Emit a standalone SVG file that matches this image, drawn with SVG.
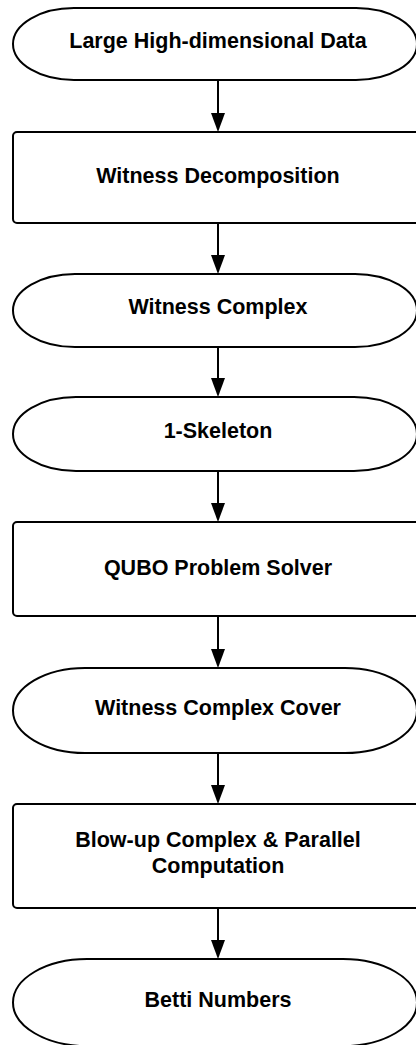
<svg xmlns="http://www.w3.org/2000/svg" width="416" height="1045" viewBox="0 0 416 1045">
<style>
.s{fill:#fff;stroke:#000;stroke-width:2}
.t{font-family:"Liberation Sans",Arial,sans-serif;font-weight:bold;font-size:21.5px;fill:#000;text-anchor:middle}
.c{stroke:#000;stroke-width:2;fill:none}
</style>
<defs>
<marker id="ah" viewBox="0 0 19 14" refX="9" refY="7" markerWidth="19" markerHeight="14" markerUnits="userSpaceOnUse" orient="auto">
<path d="M0,0 L19,7 L0,14 Z" fill="#000"/>
</marker>
</defs>
<rect width="416" height="1045" fill="#fff"/>
<g id="n1"><path class="s" d="M74,8 H356 A61,36 0 0 1 356,80 H74 A61,36 0 0 1 74,8 Z"/><text class="t" x="218" y="48">Large High-dimensional Data</text></g>
<g id="n2"><rect class="s" x="13" y="132" width="410" height="91" rx="4"/><text class="t" x="218" y="183">Witness Decomposition</text></g>
<g id="n3"><path class="s" d="M75,274 H355 A62,36.5 0 0 1 355,347 H75 A62,36.5 0 0 1 75,274 Z"/><text class="t" x="218" y="314">Witness Complex</text></g>
<g id="n4"><path class="s" d="M76,397 H354 A63,37 0 0 1 354,471 H76 A63,37 0 0 1 76,397 Z"/><text class="t" x="218" y="438">1-Skeleton</text></g>
<g id="n5"><rect class="s" x="13" y="522" width="410" height="94" rx="4"/><text class="t" x="218" y="575">QUBO Problem Solver</text></g>
<g id="n6"><path class="s" d="M85,668 H345 A72,42.5 0 0 1 345,753 H85 A72,42.5 0 0 1 85,668 Z"/><text class="t" x="218" y="715">Witness Complex Cover</text></g>
<g id="n7"><rect class="s" x="13" y="804" width="410" height="104" rx="4"/><text class="t" x="218" y="847">Blow-up Complex &amp; Parallel</text><text class="t" x="218" y="873">Computation</text></g>
<g id="n8"><path class="s" d="M87,959 H343 A74,43.5 0 0 1 343,1046 H87 A74,43.5 0 0 1 87,959 Z"/><text class="t" x="218" y="1007">Betti Numbers</text></g>
<g id="connectors">
<line class="c" x1="218" y1="80" x2="218" y2="122" marker-end="url(#ah)"/>
<line class="c" x1="218" y1="223" x2="218" y2="264" marker-end="url(#ah)"/>
<line class="c" x1="218" y1="347" x2="218" y2="387" marker-end="url(#ah)"/>
<line class="c" x1="218" y1="471" x2="218" y2="512" marker-end="url(#ah)"/>
<line class="c" x1="218" y1="616" x2="218" y2="658" marker-end="url(#ah)"/>
<line class="c" x1="218" y1="753" x2="218" y2="794" marker-end="url(#ah)"/>
<line class="c" x1="218" y1="908" x2="218" y2="949" marker-end="url(#ah)"/>
</g>
</svg>
